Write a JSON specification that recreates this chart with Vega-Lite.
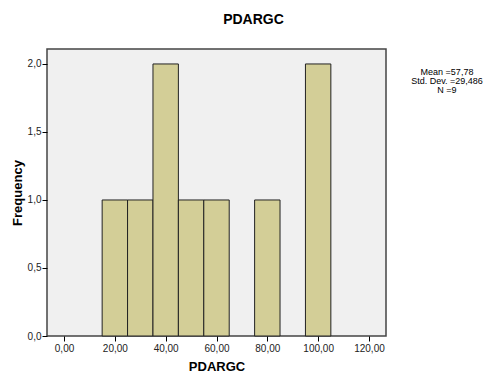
{
  "$schema": "https://vega.github.io/schema/vega-lite/v6.json",
  "width": 339,
  "height": 287,
  "autosize": "none",
  "padding": {"left": 47, "top": 49, "right": 98, "bottom": 43},
  "background": "white",
  "title": {
    "text": "PDARGC",
    "font": "Liberation Sans",
    "fontSize": 14,
    "fontWeight": "bold",
    "color": "#000000",
    "anchor": "middle",
    "dx": 37,
    "offset": 22
  },
  "config": {
    "font": "Liberation Sans",
    "view": {"fill": "#f0f0f0", "stroke": "#444444", "strokeWidth": 1.5}
  },
  "layer": [
    {
      "data": {
        "values": [
          {"bin_start": 15, "bin_end": 25, "count": 1},
          {"bin_start": 25, "bin_end": 35, "count": 1},
          {"bin_start": 35, "bin_end": 45, "count": 2},
          {"bin_start": 45, "bin_end": 55, "count": 1},
          {"bin_start": 55, "bin_end": 65, "count": 1},
          {"bin_start": 75, "bin_end": 85, "count": 1},
          {"bin_start": 95, "bin_end": 105, "count": 2}
        ]
      },
      "mark": {"type": "bar", "fill": "#d3ce97", "stroke": "#222222", "strokeWidth": 1, "opacity": 1},
      "encoding": {
        "x": {
          "field": "bin_start",
          "type": "quantitative",
          "scale": {"domain": [-6.7, 126.7], "nice": false, "zero": false},
          "axis": {
            "title": "PDARGC",
            "titleFontSize": 13,
            "titleFontWeight": "bold",
            "titleColor": "#000000",
            "titlePadding": 7,
            "values": [0, 20, 40, 60, 80, 100, 120],
            "labelExpr": "replace(format(datum.value, '.2f'), '.', ',')",
            "labelFontSize": 10,
            "labelColor": "#222222",
            "labelPadding": 2,
            "tickColor": "#000000",
            "tickSize": 5,
            "domain": false,
            "grid": false
          }
        },
        "x2": {"field": "bin_end"},
        "y": {
          "field": "count",
          "type": "quantitative",
          "scale": {"domain": [0, 2.11], "nice": false},
          "axis": {
            "title": "Frequency",
            "titleFontSize": 13,
            "titleFontWeight": "bold",
            "titleColor": "#000000",
            "titlePadding": 3,
            "values": [0, 0.5, 1, 1.5, 2],
            "labelExpr": "replace(format(datum.value, '.1f'), '.', ',')",
            "labelFontSize": 10,
            "labelColor": "#222222",
            "labelPadding": 1,
            "tickColor": "#000000",
            "tickSize": 5,
            "domain": false,
            "grid": false
          }
        },
        "y2": {"datum": 0}
      }
    },
    {
      "data": {
        "values": [
          {"stat": ["Mean =57,78", "Std. Dev. =29,486", "N =9"]}
        ]
      },
      "mark": {
        "type": "text",
        "align": "center",
        "baseline": "top",
        "fontSize": 9,
        "lineHeight": 9,
        "color": "#000000",
        "clip": false
      },
      "encoding": {
        "text": {"field": "stat"},
        "x": {"datum": 150.7, "type": "quantitative"},
        "y": {"datum": 1.968, "type": "quantitative"}
      }
    }
  ]
}
